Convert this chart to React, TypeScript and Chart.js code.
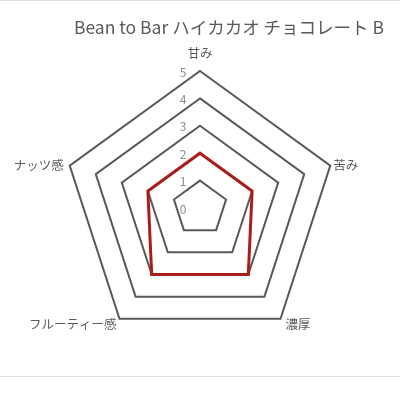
import React, { useEffect, useRef } from "react";
import { Chart, registerables } from "chart.js";

Chart.register(...registerables);

const TITLE = "Bean to Bar ハイカカオ チョコレート B";
const CATEGORIES = ["甘み", "苦み", "濃厚", "フルーティー感", "ナッツ感"];
const SERIES_VALUES = [2, 2, 3, 3, 2];
const TICK_LABELS = ["0", "1", "2", "3", "4", "5"];

const FONT = "'Noto Sans CJK JP', 'Noto Sans', sans-serif";

const labelPlugin = {
  id: "customLabels",
  afterDraw(chart: any) {
    const scale = chart.scales.r;
    const ctx = chart.ctx;
    ctx.save();
    ctx.font = `12px ${FONT}`;
    ctx.fillStyle = "#8c8c8c";
    ctx.textAlign = "center";
    ctx.textBaseline = "middle";
    TICK_LABELS.forEach((t) => {
      const d = scale.getDistanceFromCenterForValue(Number(t));
      ctx.fillText(t, scale.xCenter - 17, scale.yCenter - d + 1);
    });
    ctx.font = `12.5px ${FONT}`;
    ctx.fillStyle = "#595959";
    const R = scale.drawingArea;
    CATEGORIES.forEach((c, i) => {
      const p = scale.getPointPosition(i, R);
      let x = p.x;
      let y = p.y;
      if (i === 0) {
        ctx.textAlign = "center";
        y = p.y - 18;
      } else if (i === 1) {
        ctx.textAlign = "left";
        x = p.x + 3;
      } else if (i === 2) {
        ctx.textAlign = "left";
        x = p.x + 5;
        y = p.y + 5;
      } else if (i === 3) {
        ctx.textAlign = "right";
        x = p.x - 3;
        y = p.y + 5;
      } else {
        ctx.textAlign = "right";
        x = p.x - 6;
      }
      ctx.textBaseline = "middle";
      ctx.fillText(c, x, y);
    });
    ctx.restore();
  },
};

export default function App() {
  const ref = useRef<HTMLCanvasElement>(null);
  useEffect(() => {
    if (!ref.current) return;
    const chart = new Chart(ref.current, {
      type: "radar",
      data: {
        labels: CATEGORIES,
        datasets: [
          {
            label: "B",
            data: SERIES_VALUES,
            borderColor: "#a81c1c",
            borderWidth: 3,
            backgroundColor: "rgba(0,0,0,0)",
            fill: false,
            pointRadius: 0,
            pointHoverRadius: 0,
            tension: 0,
          },
        ],
      },
      options: {
        animation: false,
        responsive: true,
        maintainAspectRatio: false,
        layout: { padding: { top: 0, bottom: 54, left: 16, right: 16 } },
        plugins: {
          legend: { display: false },
          tooltip: { enabled: false },
          title: {
            display: true,
            text: TITLE,
            align: "end",
            color: "#595959",
            font: { family: FONT, size: 17.5, weight: "normal" },
            padding: { top: 16, bottom: 32.5 },
          },
        },
        scales: {
          r: {
            min: 0,
            max: 5,
            ticks: { display: false, stepSize: 1 },
            angleLines: { display: false },
            grid: { color: "#595959", lineWidth: 2 },
            pointLabels: { display: false },
          },
        },
      },
      plugins: [labelPlugin],
    });
    return () => chart.destroy();
  }, []);
  return (
    <div
      style={{
        position: "absolute",
        left: 0,
        top: 0,
        width: 400,
        height: 400,
        background: "#fff",
        borderTop: "1px solid #dedede",
        boxSizing: "border-box",
      }}
    >
      <div
        style={{
          position: "absolute",
          left: 0,
          top: 375,
          width: 400,
          height: 1,
          background: "#dcdcdc",
        }}
      />
      <div style={{ position: "absolute", left: 0, top: 0, width: 400, height: 399 }}>
        <canvas ref={ref} />
      </div>
    </div>
  );
}
